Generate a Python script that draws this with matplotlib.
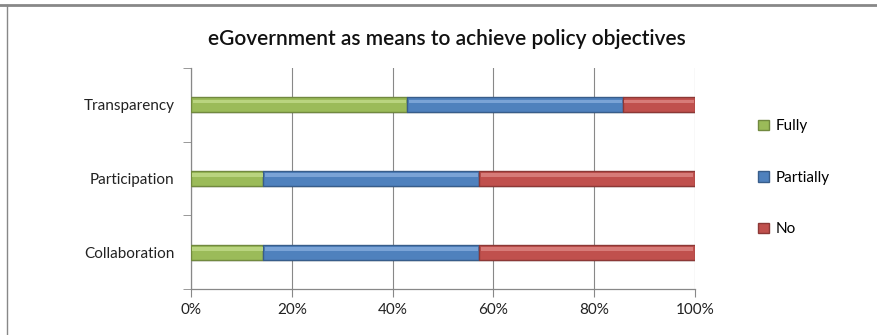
import numpy as np
import matplotlib
matplotlib.use("Agg")
import matplotlib.pyplot as plt
from matplotlib.lines import Line2D
from matplotlib.patches import Patch

# share of responses per objective (7 respondents)
categories = ["Collaboration", "Participation", "Transparency"]
fully = [14.3, 14.3, 42.9]
partially = [42.9, 42.9, 42.9]
no = [42.8, 42.8, 14.2]
series_names = ["Fully", "Partially", "No"]
x_ticks = [0, 20, 40, 60, 80, 100]

colors = ["#9bbb59", "#4f81bd", "#c0504d"]
edges = ["#71893f", "#385d8a", "#8c3836"]
lights = ["#b9d47f", "#7aa3d6", "#d77b78"]

plt.rcParams["font.family"] = ["Lato", "DejaVu Sans"]

fig = plt.figure(figsize=(8.77, 3.35), dpi=100)
ax = fig.add_axes([0.2178, 0.1373, 0.5747, 0.6597])

y = np.arange(len(categories))
h = 0.2
left = np.zeros(len(categories))
for vals, c, ec, lc in zip([fully, partially, no], colors, edges, lights):
    vals = np.array(vals)
    # soft shadow below the bar
    ax.barh(y - 0.03, vals, h, left=left, color="#000000", alpha=0.08,
            linewidth=0, zorder=2)
    ax.barh(y, vals, h, left=left, color=c, edgecolor=ec, linewidth=1.0,
            zorder=3)
    # bevel highlight along the top
    ax.barh(y + h * 0.22, vals * 0.985, h * 0.25, left=left + vals * 0.0075,
            color=lc, linewidth=0, zorder=4)
    left += vals

ax.set_xlim(0, 100)
ax.set_ylim(-0.5, len(categories) - 0.5)
ax.set_xticks(x_ticks)
ax.set_xticklabels([f"{t}%" for t in x_ticks], fontsize=11, color="#222222")
ax.set_yticks(y)
ax.set_yticklabels(categories, fontsize=11, color="#222222")
ax.set_yticks(np.arange(-0.5, len(categories), 1.0), minor=True)
ax.tick_params(axis="y", which="major", length=0, pad=12)
ax.tick_params(axis="y", which="minor", length=6, color="#888888")
ax.tick_params(axis="x", length=6, color="#888888", pad=4)
ax.grid(axis="x", color="#888888", linewidth=0.8, zorder=0)
ax.set_axisbelow(True)
for s in ["top", "right"]:
    ax.spines[s].set_visible(False)
for s in ["left", "bottom"]:
    ax.spines[s].set_color("#888888")
    ax.spines[s].set_linewidth(0.9)

fig.text(0.51, 0.885, "eGovernment as means to achieve policy objectives",
         ha="center", va="center", fontsize=15, fontweight="semibold",
         color="#111111")

handles = [Patch(facecolor=c, edgecolor=ec) for c, ec in zip(colors, edges)]
fig.legend(handles, series_names, loc="center left",
           bbox_to_anchor=(0.849, 0.469), frameon=False, fontsize=11,
           handlelength=0.7, handleheight=0.7, handletextpad=0.4,
           labelspacing=2.45)

# outer frame edges
fig.add_artist(Line2D([0, 1], [0.985, 0.985], color="#888888", linewidth=2,
                      transform=fig.transFigure))
fig.add_artist(Line2D([0.008, 0.008], [0, 0.985], color="#888888",
                      linewidth=1, transform=fig.transFigure))

fig.savefig("out.png", dpi=100)
